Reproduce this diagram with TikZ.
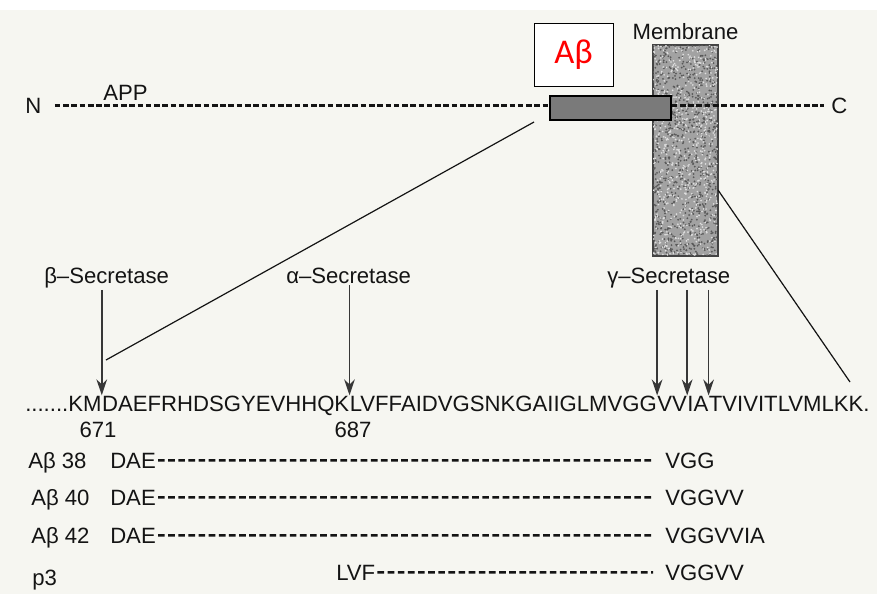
\documentclass[tikz,border=0pt]{standalone}
\usepackage{fontspec}
\setmainfont{Liberation Sans}
\newfontfamily\calibrifont{Carlito}
\usetikzlibrary{arrows.meta,positioning,calc}
\definecolor{apppaper}{HTML}{F6F6F1}
\definecolor{appink}{HTML}{141414}
\definecolor{appbar}{HTML}{7A7A7A}
\definecolor{appmem}{HTML}{A2A2A2}
\definecolor{abred}{HTML}{FF0000}

\begin{document}
\begin{tikzpicture}[
        x=0.75pt,y=-0.75pt,
        lbl/.style={font=\fontsize{16.6}{20}\selectfont, text=appink, inner sep=0pt},
        seqpart/.style={lbl, anchor=base west},
        peptide/.style={draw=appink, line width=1.8pt, dash pattern=on 5pt off 2.6pt,
            shorten <=1.5pt, shorten >=9pt},
        appline/.style={draw=appink, line width=1.7pt, dash pattern=on 4.2pt off 2pt},
        cutarrow/.style={-{Stealth[length=12pt,width=8pt]}, line width=1.3pt, draw=appink!85,
            shorten <=1.5pt},
        zoomline/.style={draw=appink, line width=0.9pt},
        abbar/.style={draw=black, line width=1pt, fill=appbar,
            minimum width=90.75pt, minimum height=18pt, inner sep=0pt},
        membrane/.style={draw=appink!80, line width=0.9pt, fill=appmem,
            minimum width=48.75pt, minimum height=158.25pt, inner sep=0pt},
        abtag/.style={draw=black, line width=0.6pt, fill=white,
            minimum width=59.25pt, minimum height=47.25pt, inner sep=0pt,
            font=\calibrifont\fontsize{26}{30}\selectfont, text=abred}
    ]
        \fill[apppaper] (0,0) rectangle (877,594);
        \fill[white] (0,0) rectangle (877,10);
        \useasboundingbox (0,0) rectangle (877,594);

        % membrane with stipple
        \node[membrane] (mem) at (685.5,150.5) {};
        \begin{scope}
            \clip (mem.south west) rectangle (mem.north east);
            \pgfmathsetseed{42}
            \foreach \i in {1,...,900}
                \fill[black!65] ($(mem.north west)+(rnd*65,rnd*211)$) circle (0.75pt);
            \foreach \i in {1,...,650}
                \fill[white!75!gray] ($(mem.north west)+(rnd*65,rnd*211)$) circle (0.7pt);
        \end{scope}
        \draw[draw=appink!80, line width=0.9pt] (mem.south west) rectangle (mem.north east);
        \node[lbl, above=3pt of mem] (memlbl) {Membrane};

        \node[abbar] (bar) at (610.5,108) {};
        \node[abtag] (abtag) at (573.5,54.5) {Aβ};

        \node[lbl, anchor=base west] (nterm) at (25,113) {N};
        \node[lbl, anchor=base west] (cterm) at (831,113) {C};
        \node[lbl, anchor=base west] (app) at (103,100) {APP};
        \draw[appline, shorten <=10pt] (nterm.east) -- (nterm.east -| bar.west);
        \draw[appline, shorten >=5pt] (bar.east |- cterm.west) -- (cterm.west);

        \node[lbl, anchor=base west] (bsec) at (44,283) {β–Secretase};
        \node[lbl, anchor=base west] (asec) at (286,283) {α–Secretase};
        \node[lbl, anchor=base west] (gsec) at (607,283) {γ–Secretase};

        % sequence, split at the cleavage sites
        \node[seqpart] (s1) at (25,411) {.......KM};
        \node[seqpart] (s2) at (s1.base east) {DAEFRHDSGYEVHHQK};
        \node[seqpart] (s3) at (s2.base east) {LVFFAIDVGSNKGAIIGLMVGG};
        \node[seqpart] (s4) at (s3.base east) {VV};
        \node[seqpart] (s5) at (s4.base east) {IA};
        \node[seqpart] (s6) at (s5.base east) {TVIVITLVMLKK.};

        \node[lbl, anchor=base] (n671) at (98,437) {671};
        \node[lbl, anchor=base] (n687) at (353,437) {687};

        \foreach \lab/\site in {bsec/s2,asec/s3,gsec/s4,gsec/s5,gsec/s6}
            \draw[cutarrow] (\lab.south -| \site.north west) -- (\site.north west);

        \coordinate (zoomLtop) at (534,122);
        \coordinate (zoomLbot) at (106,360);
        \coordinate (zoomRtop) at (718,190);
        \coordinate (zoomRbot) at (850,382);
        \draw[zoomline] (zoomLtop) -- (zoomLbot);
        \draw[zoomline] (zoomRtop) -- (zoomRbot);

        % fragments
        \foreach \x/\y/\n/\tail in {28/468/38/VGG,31/505/40/VGGVV,31/543/42/VGGVVIA} {
            \node[lbl, anchor=base west] (ab\n) at (\x,\y) {Aβ \n};
            \node[lbl, anchor=base west] (dae\n) at (110,\y) {DAE};
            \node[lbl, anchor=base west] (end\n) at (665,\y) {\tail};
            \draw[peptide] (dae\n.east) -- (end\n.west);
        }
        \node[lbl, anchor=base west] (p3) at (32,585) {p3};
        \node[lbl, anchor=base west] (lvf) at (336,580) {LVF};
        \node[lbl, anchor=base west] (endp3) at (665,580) {VGGVV};
        \draw[peptide] (lvf.east) -- (endp3.west);
    \end{tikzpicture}
\end{document}
